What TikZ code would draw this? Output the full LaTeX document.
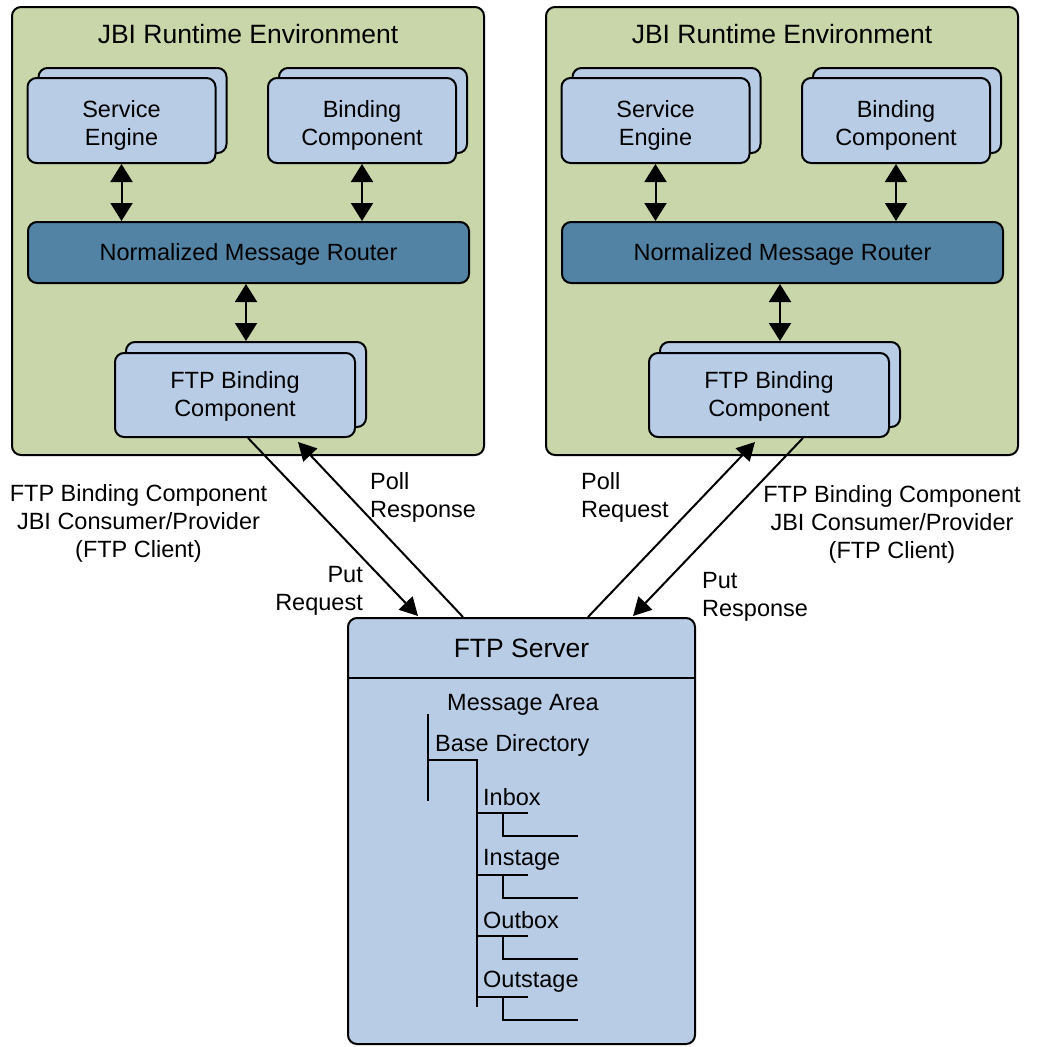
\documentclass[tikz,border=0pt]{standalone}
\usepackage{fontspec}
\setmainfont{Liberation Sans}
\usetikzlibrary{arrows.meta,calc}
\definecolor{envgreen}{RGB}{200,214,170}
\definecolor{boxblue}{RGB}{185,204,230}
\definecolor{nmrblue}{RGB}{82,131,164}
\newcommand{\smallf}{\fontsize{23.5}{28}\selectfont}
\newcommand{\bigf}{\fontsize{26.5}{30}\selectfont}
\begin{document}
\begin{tikzpicture}[x=1pt,y=-1pt,
 env/.style={draw, line width=2pt, fill=envgreen, rounded corners=9pt, minimum width=472pt, minimum height=448pt, inner sep=0pt},
 comp/.style={draw, line width=2pt, fill=boxblue, rounded corners=9pt, inner sep=0pt},
 nmrbox/.style={draw, line width=2pt, fill=nmrblue, rounded corners=9pt, minimum width=441pt, minimum height=61pt, inner sep=0pt},
 dbl/.style={line width=2pt, {Triangle[length=18pt,width=22pt]}-{Triangle[length=18pt,width=22pt]}},
 flow/.style={line width=2pt, -{Triangle[length=18pt,width=19pt]}},
 lbl/.style={font=\smallf, inner sep=0pt},
 boxtext/.style={font=\smallf, inner sep=0pt, align=center, yshift=-5pt},
 tree/.style={line width=2pt},
]
\useasboundingbox (0,0) rectangle (1037,1047);

\foreach \s/\dx in {L/0,R/534} {
 \node[env] (env\s) at (248+\dx,231) {};
 \node[lbl, font=\bigf] (title\s) at (248+\dx,34) {JBI Runtime Environment};
 \node[comp, minimum width=188pt, minimum height=85pt] (seb\s) at (132.5+\dx,110.5) {};
 \node[comp, minimum width=188pt, minimum height=85pt] (se\s) at (121.5+\dx,120.5) {};
 \node[boxtext] (set\s) at (se\s.center) {Service\\Engine};
 \node[comp, minimum width=188pt, minimum height=85pt] (bcb\s) at (373+\dx,110.5) {};
 \node[comp, minimum width=188pt, minimum height=85pt] (bc\s) at (362+\dx,120.5) {};
 \node[boxtext] (bct\s) at (bc\s.center) {Binding\\Component};
 \node[nmrbox] (nmr\s) at (248.5+\dx,252.5) {};
 \node[lbl, yshift=-2pt] (nmrt\s) at (nmr\s.center) {Normalized Message Router};
 \node[comp, minimum width=240pt, minimum height=85pt] (ftpb\s) at (246+\dx,384.5) {};
 \node[comp, minimum width=240pt, minimum height=84pt] (ftp\s) at (235+\dx,395) {};
 \node[boxtext, yshift=4pt] (ftpt\s) at (ftp\s.center) {FTP Binding\\Component};
 \draw[dbl] (se\s.south) -- (se\s.south |- nmr\s.north);
 \draw[dbl] (bc\s.south) -- (bc\s.south |- nmr\s.north);
 \draw[dbl] (nmr\s.south -| ftpb\s) -- (ftpb\s.north);
}

% FTP server
\node[draw, line width=2pt, fill=boxblue, rounded corners=9pt, minimum width=347pt, minimum height=426pt] (server) at (521.5,831) {};
\coordinate (divy) at (521.5,678);
\draw[line width=2pt] (server.west |- divy) -- (server.east |- divy);
\node[lbl, font=\bigf] (srvtitle) at (521.5,648) {FTP Server};
\node[lbl] (msgarea) at (523,705) {Message Area};
\node[lbl, anchor=west] (basedir) at (435,745) {Base Directory};
\node[lbl, anchor=west] (inbox) at (483,797) {Inbox};
\node[lbl, anchor=west] (instage) at (483,860) {Instage};
\node[lbl, anchor=west] (outbox) at (483,920) {Outbox};
\node[lbl, anchor=west] (outstage) at (483,982) {Outstage};
\draw[tree] (428,714) -- (428,801);
\draw[tree] (428,760) -- (477,760) -- (477,1007);
\foreach \y in {813,875,936,997} {
 \draw[tree] (477,\y) -- (528,\y);
 \draw[tree] (503,\y) -- (503,\y+23) -- (578,\y+23);
}

% flows
\draw[flow] ($(ftpL.south)+(13,0)$) -- ($(server.north)+(-103.5,-1)$);
\draw[flow] ($(server.north)+(-58.5,0)$) -- ($(ftpL.south)+(63,4)$);
\draw[flow] ($(server.north)+(66.5,0)$) -- ($(ftpR.south)+(-14,4)$);
\draw[flow] ($(ftpR.south)+(34,0)$) -- ($(server.north)+(111.5,-1)$);

% labels
\node[lbl, align=center] (lblL) at (138.5,523) {FTP Binding Component\\JBI Consumer/Provider\\(FTP Client)};
\node[lbl, align=center] (lblR) at (892,524) {FTP Binding Component\\JBI Consumer/Provider\\(FTP Client)};
\node[lbl, align=left, anchor=west] (pollresp) at (370,497) {Poll\\Response};
\node[lbl, align=right, anchor=east] (putreq) at (363,591) {Put\\Request};
\node[lbl, align=left, anchor=west] (pollreq) at (581,497) {Poll\\Request};
\node[lbl, align=left, anchor=west] (putresp) at (702,597) {Put\\Response};
\end{tikzpicture}
\end{document}
